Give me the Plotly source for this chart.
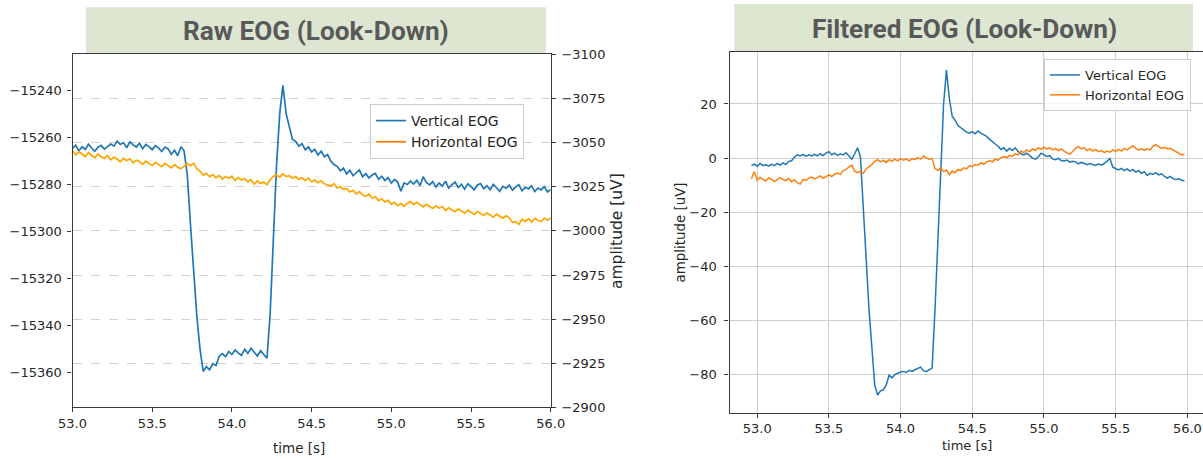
import numpy as np
import plotly.graph_objects as go

W, H = 1203, 459

# ---- sample clocks (seconds) ----
RAW_T0 = 53.00
FILT_T0 = 52.96
DT = 0.02

# ---- raw vertical EOG (left axis) ----
raw_vertical = [
    -15264.8, -15263.4, -15265.9, -15264.1, -15265.2, -15263.0, -15264.6, -15266.0, -15264.3, -15263.5,
    -15265.1, -15264.0, -15262.9, -15263.8, -15261.7, -15263.1, -15262.3, -15264.5, -15262.0, -15263.3,
    -15264.2, -15262.6, -15264.9, -15263.1, -15264.0, -15265.3, -15263.6, -15264.7, -15266.1, -15264.2,
    -15265.0, -15267.3, -15265.6, -15267.9, -15264.1, -15265.8,
    -15276.0, -15297.0, -15318.0, -15336.0, -15350.0, -15359.5,
    -15357.4, -15358.8, -15356.2, -15357.0, -15353.1, -15351.9, -15353.2, -15351.0, -15352.3, -15350.4,
    -15351.6, -15352.7, -15350.1, -15351.8, -15349.6, -15351.2, -15352.9, -15350.7, -15352.2, -15353.9,
    -15335.0, -15305.0, -15272.0, -15250.0, -15238.0, -15250.0, -15256.0, -15261.0,
    -15261.8, -15263.9, -15262.7, -15265.4, -15264.1, -15266.3, -15265.2, -15267.6, -15266.0, -15268.3,
    -15267.4, -15270.1, -15271.6, -15272.4, -15274.3, -15273.1,
    -15275.6, -15274.0, -15276.4, -15275.1, -15273.9, -15276.8, -15275.5, -15277.3, -15276.1, -15275.4,
    -15277.9, -15276.6, -15278.4, -15277.2, -15279.5, -15278.0,
    -15279.1, -15283.0, -15279.4,
    -15280.1, -15278.6, -15279.9, -15278.3, -15280.6, -15276.8, -15279.2, -15280.3, -15278.9, -15281.2,
    -15279.5, -15280.8, -15278.7, -15281.6, -15280.2, -15279.1, -15281.4, -15280.0, -15282.1, -15279.8,
    -15281.0, -15282.4, -15280.3, -15279.7, -15281.9, -15280.6, -15282.3, -15280.1, -15281.5, -15283.0,
    -15280.9, -15281.7, -15280.4, -15282.5, -15281.1, -15280.2, -15282.8, -15281.3, -15282.0, -15280.7,
    -15283.1, -15281.6, -15282.4, -15281.0, -15283.3, -15282.2,
]

# ---- raw horizontal EOG (right axis, inverted) ----
raw_horizontal = [
    -3045.6, -3043.1, -3044.9, -3043.8, -3042.2, -3044.3, -3042.9, -3041.5, -3043.6, -3042.0,
    -3041.1, -3042.8, -3040.3, -3041.9, -3040.6, -3039.2, -3041.3, -3039.8, -3040.9, -3038.6,
    -3040.1, -3039.3, -3037.8, -3039.6, -3038.2, -3037.1, -3038.9, -3037.5, -3036.4, -3038.3,
    -3036.8, -3035.7, -3037.6, -3036.1, -3035.2, -3036.9,
    -3038.2, -3037.0, -3038.4, -3035.1, -3033.9, -3031.6,
    -3032.6, -3030.7, -3031.9, -3030.1, -3031.5, -3029.4, -3030.8, -3029.9, -3031.0, -3028.7,
    -3030.2, -3028.9, -3029.6, -3027.8, -3029.1, -3026.5, -3028.3, -3026.9, -3027.7, -3026.2,
    -3029.0, -3030.9, -3031.7, -3030.5, -3032.4, -3030.8, -3031.3, -3029.9,
    -3030.8, -3029.2, -3030.1, -3028.6, -3029.9, -3027.9, -3028.8, -3027.3, -3028.4, -3026.7,
    -3026.2, -3025.4, -3026.8, -3024.3, -3025.1, -3023.6,
    -3023.9, -3022.1, -3023.0, -3021.0, -3022.3, -3020.4, -3019.6, -3020.9, -3018.5, -3019.4,
    -3017.2, -3018.1, -3016.4, -3017.3, -3015.2, -3016.1,
    -3014.3, -3015.6, -3013.9,
    -3015.7, -3016.6, -3014.9, -3016.2, -3015.0, -3013.6, -3015.1, -3013.9, -3012.7, -3014.2,
    -3012.9, -3013.8, -3011.6, -3013.1, -3012.0, -3010.9, -3012.5, -3011.2, -3010.1, -3011.8,
    -3010.4, -3009.3, -3011.0, -3009.6, -3008.7, -3010.2, -3008.9, -3007.8, -3009.5, -3008.1,
    -3007.2, -3008.6, -3007.4, -3004.9, -3005.3, -3003.7, -3006.6, -3005.4, -3006.9, -3005.0,
    -3007.1, -3006.0, -3005.2, -3007.3, -3006.1, -3007.4,
]

# ---- filtered vertical EOG ----
filt_vertical = [
    -2.8, -2.2, -3.0, -2.0, -2.8, -2.4, -3.0, -2.2, -2.8, -2.0,
    -2.6, -1.8, -2.4, -1.2, -1.0, 0.4, 1.2, 0.8, 1.4, 0.6,
    1.2, 0.8, 1.4, 0.8, 1.6, 0.9, 1.8, 2.4, 1.2, 1.8,
    1.0, 1.6, 1.2, 2.0, 0.8, -0.4, 1.6, 3.8, 0.5, -18.0,
    -40.0, -56.0, -70.0, -84.0, -87.5, -86.0, -85.6, -83.8, -80.2, -81.2,
    -80.0, -79.4, -79.0, -78.8, -79.2, -78.4, -78.8, -78.2, -77.6, -77.2,
    -78.6, -78.8, -78.2, -77.6, -56.0, -30.0, 0.0, 20.0, 32.5, 22.0,
    15.5, 14.0, 12.0, 11.2, 10.6, 9.6, 9.2, 9.8, 9.0, 10.0,
    9.2, 8.6, 8.0, 7.0, 6.0, 5.2, 4.4, 3.2, 3.8, 2.6,
    3.6, 2.8, 3.8, 2.4, 1.6, 1.2, 1.8, 0.8, 0.0, -0.4,
    0.4, 1.8, 1.2, 0.6, 0.9, -0.3, -0.6, -0.1, -0.9, -1.1,
    -0.7, -1.5, -1.2, -1.4, -2.1, -1.6, -1.9, -2.4, -2.0, -2.3,
    -2.7, -2.1, -2.6, -2.0, -1.2, -0.2, -3.4, -4.0, -4.4, -3.8,
    -4.6, -4.0, -4.8, -4.2, -5.2, -4.6, -5.6, -5.0, -6.4, -5.6,
    -6.0, -5.4, -6.2, -5.8, -6.8, -7.4, -6.8, -7.6, -8.0, -7.6,
    -8.2, -8.4,
]

# ---- filtered horizontal EOG ----
filt_horizontal = [
    -7.6, -5.0, -8.2, -7.1, -7.9, -8.5, -7.3, -7.8, -8.7, -8.1,
    -7.2, -7.9, -8.3, -7.5, -8.8, -8.0, -9.1, -9.6, -7.9, -8.2,
    -7.4, -7.0, -7.7, -7.2, -6.6, -7.5, -6.9, -6.2, -6.8, -5.9,
    -5.5, -6.1, -4.6, -4.2, -3.2, -2.6, -4.8, -5.4, -5.0, -5.6,
    -4.0, -3.2, -2.4, -1.2, -0.6, -1.4, -0.8, -1.6, -0.6, -1.2,
    -0.4, -1.0, -0.2, -0.8, -0.4, -1.0, -0.2, -0.6, 0.2, -0.4,
    0.8, 0.0, -0.4, -0.2, -3.8, -4.6, -3.6, -5.0, -4.4, -6.2,
    -4.8, -5.4, -4.2, -4.6, -3.6, -4.0, -2.8, -3.2, -2.4, -2.6,
    -1.8, -2.2, -1.4, -1.0, -1.4, -0.4, -0.8, 0.2, 0.6, 0.2,
    1.0, 0.6, 1.6, 1.2, 2.6, 2.0, 3.0, 2.4, 3.4, 2.8,
    3.8, 3.2, 4.0, 3.4, 3.8, 3.0, 3.6, 2.8, 3.4, 2.6,
    2.0, 1.4, 2.4, 3.6, 4.2, 3.4, 3.8, 2.8, 3.4, 2.6,
    3.2, 2.4, 2.8, 2.0, 2.6, 2.2, 3.0, 2.4, 3.2, 2.6,
    3.6, 3.0, 3.8, 4.6, 3.6, 3.0, 3.4, 2.8, 3.4, 3.0,
    4.4, 5.0, 4.2, 3.6, 4.0, 3.4, 3.6, 3.0, 2.4, 1.8,
    1.2, 1.4,
]

# axis ticks
raw_xticks = [53.0, 53.5, 54.0, 54.5, 55.0, 55.5, 56.0]
raw_left_ticks = [-15360, -15340, -15320, -15300, -15280, -15260, -15240]
raw_right_ticks = [-3100, -3075, -3050, -3025, -3000, -2975, -2950, -2925, -2900]
filt_xticks = [53.0, 53.5, 54.0, 54.5, 55.0, 55.5, 56.0]
filt_yticks = [-80, -60, -40, -20, 0, 20]

raw_t = RAW_T0 + DT * np.arange(len(raw_vertical))
raw_th = RAW_T0 + DT * np.arange(len(raw_horizontal))
filt_t = FILT_T0 + DT * np.arange(len(filt_vertical))
filt_th = FILT_T0 + DT * np.arange(len(filt_horizontal))

BLUE = "#1f77b4"
ORANGE = "#ff7f0e"
GOLD = "#ffa500"
INK = "#262626"
SPINE = "#3a3a3a"
FONT = "DejaVu Sans"


def fx(px):
    return px / W


def fy(py):
    return 1 - py / H


def label(v, fmt="{:g}"):
    s = fmt.format(abs(v))
    return ("\u2212" + s) if v < 0 else s


fig = go.Figure()

# left panel: raw signals
fig.add_trace(go.Scatter(x=raw_t, y=raw_vertical, mode="lines", name="Vertical EOG",
                         line=dict(color=BLUE, width=1.7), xaxis="x", yaxis="y",
                         legend="legend"))
fig.add_trace(go.Scatter(x=raw_th, y=raw_horizontal, mode="lines", name="Horizontal EOG",
                         line=dict(color=GOLD, width=1.7), xaxis="x", yaxis="y2",
                         showlegend=False))
fig.add_trace(go.Scatter(x=[None], y=[None], mode="lines", name="Horizontal EOG",
                         line=dict(color=ORANGE, width=1.8), xaxis="x", yaxis="y2",
                         legend="legend"))

# right panel: filtered signals
fig.add_trace(go.Scatter(x=filt_t, y=filt_vertical, mode="lines", name="Vertical EOG",
                         line=dict(color=BLUE, width=1.5), xaxis="x3", yaxis="y3",
                         legend="legend2"))
fig.add_trace(go.Scatter(x=filt_th, y=filt_horizontal, mode="lines", name="Horizontal EOG",
                         line=dict(color=ORANGE, width=1.5), xaxis="x3", yaxis="y3",
                         legend="legend2"))

tickfont = dict(family=FONT, size=13, color=INK)
common = dict(showline=True, linecolor=SPINE, linewidth=1.3, ticks="outside", ticklen=4,
              tickcolor=SPINE, tickwidth=1, zeroline=False, tickfont=tickfont,
              automargin=False)

fig.update_layout(
    width=W, height=H, autosize=False,
    margin=dict(l=0, r=0, t=0, b=0, pad=0),
    paper_bgcolor="white", plot_bgcolor="white",
    font=dict(family=FONT, color=INK),
    xaxis=dict(domain=[fx(72.5), fx(550.7)], range=[53, 56], anchor="y",
               tickvals=raw_xticks, ticktext=[f"{v:.1f}" for v in raw_xticks],
               mirror=True, showgrid=False, **common),
    yaxis=dict(domain=[fy(407.3), fy(54)], range=[-15374.7, -15224.7], anchor="x",
               tickvals=raw_left_ticks, ticktext=[label(v) for v in raw_left_ticks],
               showgrid=False, ticklabelstandoff=3, **common),
    yaxis2=dict(overlaying="y", side="right", anchor="x", range=[-2900, -3100.3],
                tickvals=raw_right_ticks, ticktext=[label(v) for v in raw_right_ticks],
                showgrid=True, gridcolor="#d2d2d2",
                griddash="dash", gridwidth=1, ticklabelstandoff=3, **common),
    xaxis3=dict(domain=[fx(729.5), 1.0], range=[52.807, 56.109], anchor="y3",
                tickvals=filt_xticks, ticktext=[f"{v:.1f}" for v in filt_xticks],
                mirror=True, showgrid=True, gridcolor="#cfcfcf", gridwidth=1, **common),
    yaxis3=dict(domain=[fy(412.5), fy(52.3)], range=[-93.98, 39.08], anchor="x3",
                tickvals=filt_yticks, ticktext=[label(v) for v in filt_yticks],
                showgrid=True, gridcolor="#cfcfcf", gridwidth=1,
                ticklabelstandoff=5, **common),
    legend=dict(x=fx(370), y=fy(104), xanchor="left", yanchor="top",
                bgcolor="rgba(255,255,255,0.85)", bordercolor="#cccccc", borderwidth=1,
                font=dict(family=FONT, size=14, color=INK), tracegroupgap=0),
    legend2=dict(x=fx(1044), y=fy(59), xanchor="left", yanchor="top",
                 bgcolor="rgba(255,255,255,0.85)", bordercolor="#cccccc", borderwidth=1,
                 font=dict(family=FONT, size=13, color=INK), tracegroupgap=0),
    showlegend=True,
)

# title banners
fig.add_shape(type="rect", xref="paper", yref="paper", x0=fx(86), x1=fx(546),
              y0=fy(53), y1=fy(7.3), fillcolor="#dce6d1", line=dict(width=0), layer="below")
fig.add_shape(type="rect", xref="paper", yref="paper", x0=fx(734.3), x1=fx(1193),
              y0=fy(51), y1=fy(4), fillcolor="#dce6d1", line=dict(width=0), layer="below")

title_font = dict(family="Roboto, sans-serif", size=26.2, color="#595959")
fig.add_annotation(x=fx(316), y=fy(31), xref="paper", yref="paper", showarrow=False,
                   text="<b>Raw EOG (Look-Down)</b>", font=title_font,
                   xanchor="center", yanchor="middle")
fig.add_annotation(x=fx(964), y=fy(29), xref="paper", yref="paper", showarrow=False,
                   text="<b>Filtered EOG (Look-Down)</b>", font=title_font,
                   xanchor="center", yanchor="middle")

# axis titles
fig.add_annotation(x=fx(298.5), y=fy(448), xref="paper", yref="paper", showarrow=False,
                   text="time [s]", font=dict(family=FONT, size=13.5, color=INK),
                   xanchor="center", yanchor="middle")
fig.add_annotation(x=fx(967), y=fy(445), xref="paper", yref="paper", showarrow=False,
                   text="time [s]", font=dict(family=FONT, size=13, color=INK),
                   xanchor="center", yanchor="middle")
fig.add_annotation(x=fx(617), y=fy(231), xref="paper", yref="paper", showarrow=False,
                   text="amplitude [uV]", textangle=-90,
                   font=dict(family=FONT, size=15.5, color=INK),
                   xanchor="center", yanchor="middle")
fig.add_annotation(x=fx(679.5), y=fy(233), xref="paper", yref="paper", showarrow=False,
                   text="amplitude [uV]", textangle=-90,
                   font=dict(family=FONT, size=13.4, color=INK),
                   xanchor="center", yanchor="middle")

fig.write_html("out.html")
